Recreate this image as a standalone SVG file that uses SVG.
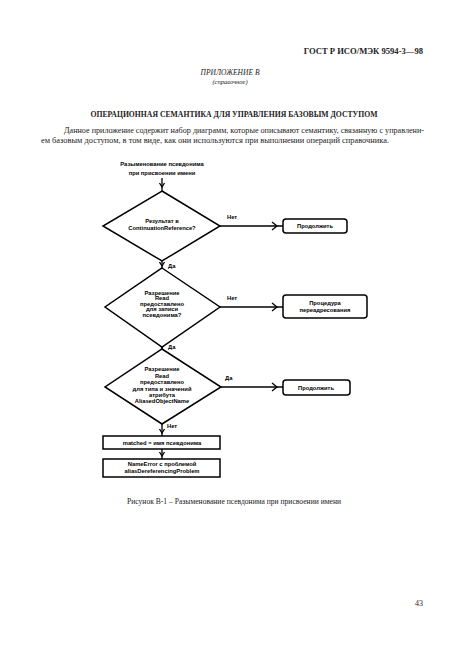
<svg xmlns="http://www.w3.org/2000/svg" width="460" height="661" viewBox="0 0 460 661">
<style>
.serif{font-family:"Liberation Serif","DejaVu Serif",serif;fill:#222}
.sans{font-family:"Liberation Sans",Arial,sans-serif;fill:#000;font-weight:bold;font-size:5.8px}
.shape{fill:#fff;stroke:#000;stroke-width:1.5}
.conn{fill:none;stroke:#000;stroke-width:1.3}
.chev{fill:none;stroke:#000;stroke-width:1.3}
</style>
<rect width="460" height="661" fill="#fff"/>
<text class="serif" x="423" y="54" font-size="8.6" font-weight="bold" text-anchor="end">ГОСТ Р ИСО/МЭК 9594-3—98</text>
<text class="serif" x="230" y="75" font-size="7.5" font-style="italic" text-anchor="middle">ПРИЛОЖЕНИЕ В</text>
<text class="serif" x="230" y="84" font-size="6.5" font-style="italic" text-anchor="middle">(справочное)</text>
<text class="serif" x="234" y="117" font-size="7.4" font-weight="bold" text-anchor="middle" textLength="287" lengthAdjust="spacingAndGlyphs">ОПЕРАЦИОННАЯ СЕМАНТИКА ДЛЯ УПРАВЛЕНИЯ БАЗОВЫМ ДОСТУПОМ</text>
<text class="serif" x="64" y="133" font-size="7.6" textLength="360" lengthAdjust="spacingAndGlyphs">Данное приложение содержит набор диаграмм, которые описывают семантику, связанную с управлени-</text>
<text class="serif" x="41" y="143" font-size="7.6" textLength="348" lengthAdjust="spacingAndGlyphs">ем базовым доступом, в том виде, как они используются при выполнении операций справочника.</text>

<g id="connectors">
<line class="conn" x1="162" y1="178" x2="162" y2="191"/>
<path class="chev" d="M159.5,183 L162,187 L164.5,183"/>
<line class="conn" x1="162" y1="261" x2="162" y2="269"/>
<path class="chev" d="M159.5,262 L162,266 L164.5,262"/>
<line class="conn" x1="162" y1="347" x2="162" y2="349"/>
<path class="chev" d="M159.5,344 L162,348 L164.5,344"/>
<line class="conn" x1="162" y1="424" x2="162" y2="436"/>
<path class="chev" d="M159.5,429 L162,433 L164.5,429"/>
<line class="conn" x1="162" y1="449" x2="162" y2="459"/>
<path class="chev" d="M159.5,452 L162,456 L164.5,452"/>
<line class="conn" x1="220" y1="226" x2="283" y2="226"/>
<path class="chev" d="M272,222 L277,226 L272,230"/>
<line class="conn" x1="220" y1="307" x2="283" y2="307"/>
<path class="chev" d="M272,303 L277,307 L272,311"/>
<line class="conn" x1="221" y1="387" x2="283" y2="387"/>
<path class="chev" d="M272,383 L277,387 L272,391"/>
<text class="sans" x="227" y="219">Нет</text>
<text class="sans" x="168" y="268">Да</text>
<text class="sans" x="227" y="300">Нет</text>
<text class="sans" x="168" y="349">Да</text>
<text class="sans" x="225" y="380">Да</text>
<text class="sans" x="167" y="428">Нет</text>
</g>

<g id="start">
<text class="sans" x="162" y="166" font-size="6.2" text-anchor="middle">Разыменование псевдонима</text>
<text class="sans" x="162" y="175" font-size="6.2" text-anchor="middle">при присвоении имени</text>
</g>

<g id="d1">
<polygon class="shape" points="162,191 220,226 162,261 103,226"/>
<text class="sans" x="162" y="223" text-anchor="middle">Результат в</text>
<text class="sans" x="162" y="230" text-anchor="middle">ContinuationReference?</text>
</g>

<g id="t1">
<rect class="shape" x="283" y="219" width="64" height="14" rx="3"/>
<text class="sans" x="315" y="228" text-anchor="middle" font-size="5.4">Продолжить</text>
</g>

<g id="d2">
<polygon class="shape" points="162,268 220,307 162,347 105,307"/>
<text class="sans" x="162" y="295" text-anchor="middle">Разрешение</text>
<text class="sans" x="162" y="300" text-anchor="middle">Read</text>
<text class="sans" x="162" y="305.5" text-anchor="middle" font-weight="normal">предоставлено</text>
<text class="sans" x="162" y="311" text-anchor="middle" font-weight="normal">для записи</text>
<text class="sans" x="162" y="316.5" text-anchor="middle">псевдонима?</text>
</g>

<g id="t2">
<rect class="shape" x="283" y="295" width="84" height="23" rx="3"/>
<text class="sans" x="325" y="305" text-anchor="middle" font-size="5.4" font-weight="normal">Процедура</text>
<text class="sans" x="325" y="312" text-anchor="middle" font-size="5.4">переадресования</text>
</g>

<g id="d3">
<polygon class="shape" points="162,349 221,387 162,424 105,387"/>
<text class="sans" x="162" y="371" text-anchor="middle">Разрешение</text>
<text class="sans" x="162" y="377.5" text-anchor="middle">Read</text>
<text class="sans" x="162" y="384" text-anchor="middle" font-weight="normal">предоставлено</text>
<text class="sans" x="162" y="390.5" text-anchor="middle">для типа и значений</text>
<text class="sans" x="162" y="396.5" text-anchor="middle" font-weight="normal">атрибута</text>
<text class="sans" x="162" y="403" text-anchor="middle">AliasedObjectName</text>
</g>

<g id="t3">
<rect class="shape" x="283" y="380" width="67" height="15" rx="3"/>
<text class="sans" x="316" y="390" text-anchor="middle" font-size="5.4">Продолжить</text>
</g>

<g id="b1">
<rect class="shape" x="103" y="436" width="117" height="13"/>
<text class="sans" x="162" y="444.5" text-anchor="middle">matched = имя псевдонима</text>
</g>

<g id="b2">
<rect class="shape" x="103" y="459" width="117" height="18"/>
<text class="sans" x="162" y="466" text-anchor="middle">NameError с проблемой</text>
<text class="sans" x="162" y="473" text-anchor="middle">aliasDereferencingProblem</text>
</g>

<text class="serif" x="234" y="504" font-size="7.4" text-anchor="middle" textLength="214" lengthAdjust="spacingAndGlyphs">Рисунок В-1 – Разыменование псевдонима при присвоении имени</text>
<text class="serif" x="423" y="606" font-size="8" text-anchor="end">43</text>
</svg>
